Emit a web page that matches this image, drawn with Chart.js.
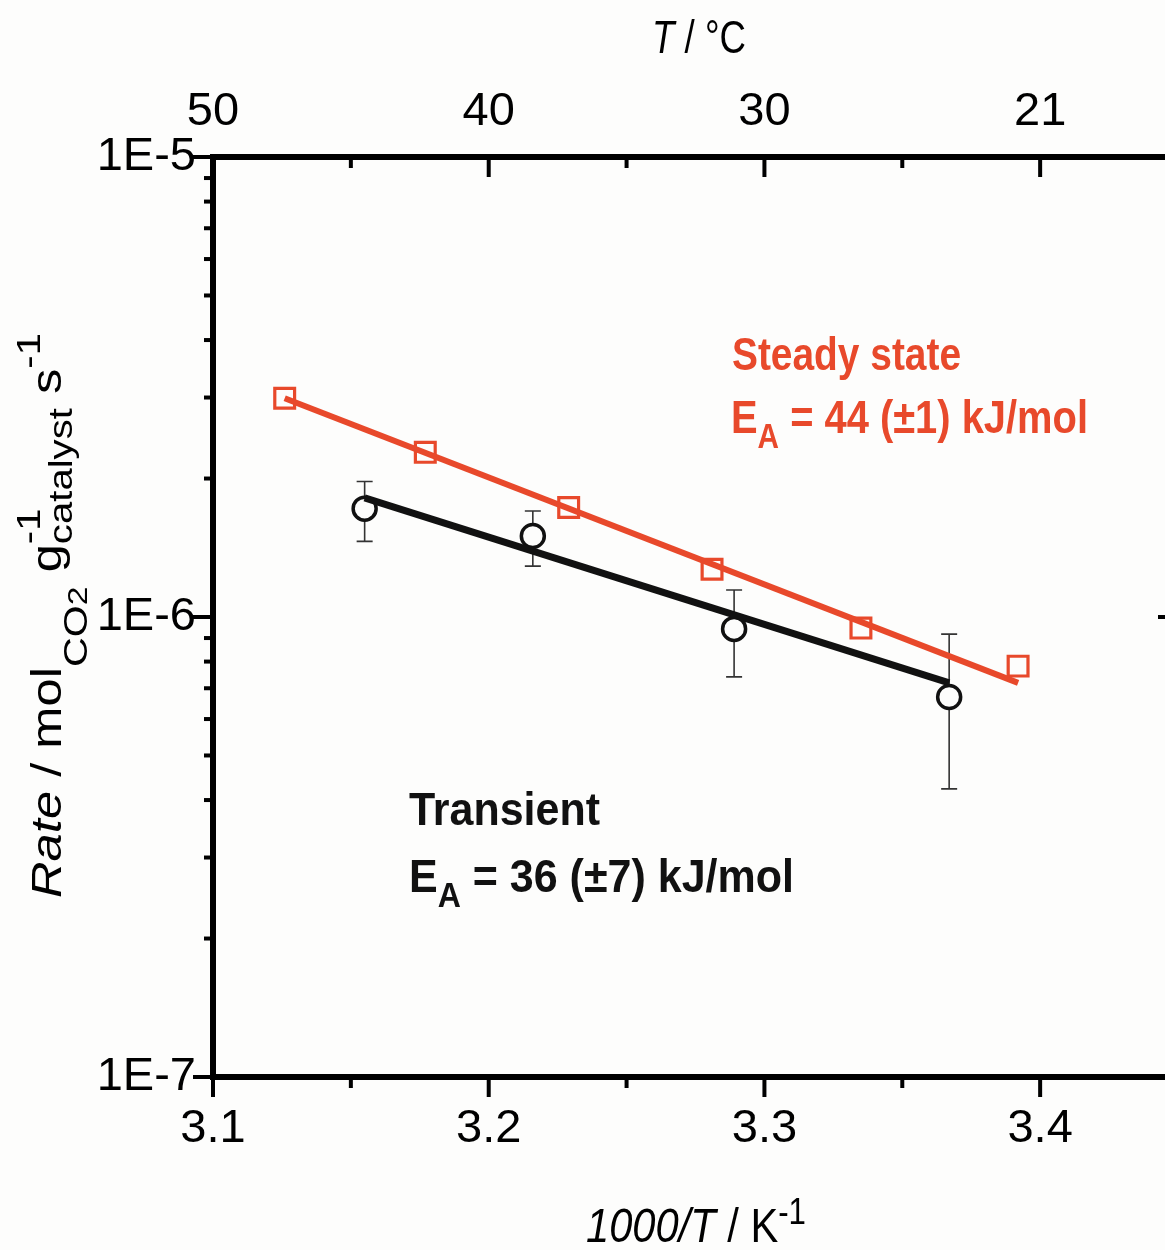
<!DOCTYPE html>
<html>
<head>
<meta charset="utf-8">
<script src="https://cdn.jsdelivr.net/npm/chart.js@4.4.1/dist/chart.umd.min.js"></script>
<style>
html,body{margin:0;padding:0;background:#fdfdfc;overflow:hidden;width:1165px;height:1250px}
canvas{display:block}
</style>
</head>
<body>
<canvas id="c" width="1200" height="1250"></canvas>
<script>
// ---- axis / tick definitions ----
const xTickValues = [3.1, 3.2, 3.3, 3.4];
const xTickLabels = ['3.1', '3.2', '3.3', '3.4'];
const xMinorTicks = [3.15, 3.25, 3.35];
const topTickLabels = ['50', '40', '30', '21'];   // T / °C shown on top axis
const yTickValues = [1e-7, 1e-6, 1e-5];
const yTickLabels = ['1E-7', '1E-6', '1E-5'];

// ---- data (x = 1000/T in K^-1, rate in mol CO2 g^-1 s^-1) ----
const steadyX    = [3.126, 3.177, 3.229, 3.281, 3.335, 3.392];
const steadyRate = [2.99e-6, 2.28e-6, 1.73e-6, 1.27e-6, 9.46e-7, 7.82e-7];

const transientX       = [3.155, 3.216, 3.289, 3.367];
const transientRate    = [1.72e-6, 1.50e-6, 9.42e-7, 6.70e-7];
const transientErrLow  = [1.46e-6, 1.29e-6, 7.41e-7, 4.23e-7];
const transientErrHigh = [1.97e-6, 1.70e-6, 1.145e-6, 9.18e-7];

// Arrhenius fit lines (end points)
const steadyFitX       = [3.126, 3.392];
const steadyFitRate    = [2.99e-6, 7.19e-7];
const transientFitX    = [3.155, 3.367];
const transientFitRate = [1.815e-6, 7.19e-7];

const RED = '#e8492b';
const INK = '#111111';
const FF = "'Liberation Sans', Arial, Helvetica, sans-serif";

// pick a narrow face for tick labels if available
const cv = document.getElementById('c');
const mctx = cv.getContext('2d');
function w(font){ mctx.font = font; return mctx.measureText('3.1 1E-6 40').width; }
const hasNarrow = w("50px 'Liberation Sans Narrow', monospace") !== w('50px monospace');
const tickFont = hasNarrow ? {family:"'Liberation Sans Narrow', 'Liberation Sans', Arial, sans-serif", size:50}
                           : {family:FF, size:47};

function pts(xs, ys){ return xs.map((v,i)=>({x:v, y:ys[i]})); }

function drawRich(ctx, segs, o){
  ctx.save();
  ctx.translate(o.x, o.y);
  if (o.rot) ctx.rotate(o.rot);
  let total = 0;
  segs.forEach(s=>{ ctx.font = s.f; s.w = ctx.measureText(s.t).width; if (s.adv !== false) total += s.w; });
  const sx = o.width ? o.width/total : (o.sx || 1);
  ctx.scale(sx, o.sy || 1);
  let cx = o.align === 'center' ? -total/2 : 0;
  ctx.fillStyle = o.color || '#000';
  ctx.textBaseline = 'alphabetic';
  ctx.textAlign = 'left';
  segs.forEach(s=>{ ctx.font = s.f; ctx.fillText(s.t, cx, s.dy || 0); if (s.adv !== false) cx += s.w; });
  ctx.restore();
}

const deco = {
  id: 'deco',
  beforeDatasetsDraw(chart){
    const {ctx, scales:{x, y}} = chart;
    ctx.save();
    ctx.strokeStyle = '#333';
    ctx.lineWidth = 1.6;
    transientX.forEach((v,i)=>{
      const px = x.getPixelForValue(v);
      const y1 = y.getPixelForValue(transientErrHigh[i]);
      const y2 = y.getPixelForValue(transientErrLow[i]);
      ctx.beginPath();
      ctx.moveTo(px, y1); ctx.lineTo(px, y2);
      ctx.moveTo(px-8, y1); ctx.lineTo(px+8, y1);
      ctx.moveTo(px-8, y2); ctx.lineTo(px+8, y2);
      ctx.stroke();
    });
    ctx.restore();
  },
  afterDraw(chart){
    const {ctx, chartArea:a, scales:{x, y}} = chart;
    ctx.save();
    ctx.strokeStyle = '#000';
    ctx.lineWidth = 4;
    const seg = (x1,y1,x2,y2)=>{ ctx.beginPath(); ctx.moveTo(x1,y1); ctx.lineTo(x2,y2); ctx.stroke(); };
    xTickValues.forEach(v=>{ const p = x.getPixelForValue(v); seg(p, a.bottom, p, a.bottom+20); seg(p, a.top, p, a.top+20); });
    xMinorTicks.forEach(v=>{ const p = x.getPixelForValue(v); seg(p, a.bottom, p, a.bottom+11); seg(p, a.top, p, a.top+11); });
    yTickValues.forEach(v=>{ const p = y.getPixelForValue(v); seg(a.left-20, p, a.left, p); seg(a.right-20, p, a.right, p); });
    for (let d = -7; d < -5; d++) {
      for (let m = 2; m <= 9; m++) {
        const p = y.getPixelForValue(m * Math.pow(10, d));
        seg(a.left-9, p, a.left, p); seg(a.right-10, p, a.right, p);
      }
    }
    ctx.restore();

    // axis titles
    drawRich(ctx, [
      {t:'T', f:'italic 47px '+FF},
      {t:' / ', f:'47px '+FF},
      {t:'°C', f:'47px '+FF}
    ], {x:699, y:53, align:'center', width:94});

    drawRich(ctx, [
      {t:'1000/T', f:'italic 48px '+FF},
      {t:' / K', f:'48px '+FF},
      {t:'-1', f:'36px '+FF, dy:-18}
    ], {x:586, y:1242, width:220});

    drawRich(ctx, [
      {t:'Rate', f:'italic 48px '+FF},
      {t:' / mol', f:'48px '+FF},
      {t:'CO', f:'39px '+FF, dy:30},
      {t:'2', f:'32px '+FF, dy:30},
      {t:' g', f:'48px '+FF},
      {t:'-1', f:'38px '+FF, dy:-24, adv:false},
      {t:'catalyst', f:'38px '+FF, dy:13},
      {t:' s', f:'48px '+FF},
      {t:'-1', f:'38px '+FF, dy:-24}
    ], {x:61, y:898, rot:-Math.PI/2, width:565, sy:0.87});

    // annotations
    const B = 'bold 47px '+FF, BS = 'bold 35px '+FF;
    drawRich(ctx, [{t:'Steady state', f:B}], {x:732, y:370, width:229, color:RED});
    drawRich(ctx, [{t:'E', f:B},{t:'A', f:BS, dy:15},{t:' = 44 (±1) kJ/mol', f:B}], {x:731, y:433, width:357, color:RED});
    drawRich(ctx, [{t:'Transient', f:B}], {x:409, y:825, width:191, color:INK});
    drawRich(ctx, [{t:'E', f:B},{t:'A', f:BS, dy:15},{t:' = 36 (±7) kJ/mol', f:B}], {x:409, y:892, width:385, color:INK});
  }
};

const borderOpt = {display:true, color:'#000', width:6};
const gridOpt = {display:true, drawOnChartArea:false, drawTicks:false, color:'rgba(0,0,0,0)'};

new Chart(cv, {
  type: 'scatter',
  data: {
    datasets: [
      {type:'line', label:'Steady state fit', data:pts(steadyFitX, steadyFitRate), borderColor:RED, borderWidth:6, pointRadius:0, order:1},
      {type:'line', label:'Transient fit', data:pts(transientFitX, transientFitRate), borderColor:INK, borderWidth:7, pointRadius:0, order:1},
      {type:'scatter', label:'Steady state', data:pts(steadyX, steadyRate), pointStyle:'rect', pointRadius:14, borderWidth:3.2, borderColor:RED, backgroundColor:'rgba(0,0,0,0)', order:2},
      {type:'scatter', label:'Transient', data:pts(transientX, transientRate), pointStyle:'circle', pointRadius:11.5, borderWidth:3.5, borderColor:INK, backgroundColor:'#fdfdfc', order:2}
    ]
  },
  options: {
    responsive:false, animation:false, events:[],
    layout:{padding:{left:0, top:0, right:22, bottom:0}},
    plugins:{legend:{display:false}, tooltip:{enabled:false}},
    scales:{
      x:{type:'linear', position:'bottom', min:3.1, max:3.45,
         afterBuildTicks:s=>{ s.ticks = xTickValues.map(v=>({value:v})); },
         afterFit:s=>{ s.height = 173; },
         ticks:{font:tickFont, color:'#000', padding:24, maxRotation:0, autoSkip:false, callback:(v,i)=>xTickLabels[i]},
         grid:gridOpt, border:borderOpt},
      x2:{type:'linear', position:'top', min:3.1, max:3.45,
         afterBuildTicks:s=>{ s.ticks = xTickValues.map(v=>({value:v})); },
         afterFit:s=>{ s.height = 157; },
         ticks:{font:tickFont, color:'#000', padding:17, maxRotation:0, autoSkip:false, callback:(v,i)=>topTickLabels[i]},
         grid:gridOpt, border:borderOpt},
      y:{type:'logarithmic', position:'left', min:1e-7, max:1e-5,
         afterBuildTicks:s=>{ s.ticks = yTickValues.map(v=>({value:v})); },
         afterFit:s=>{ s.width = 213; },
         ticks:{font:tickFont, color:'#000', padding:17, autoSkip:false, callback:(v,i)=>yTickLabels[i]},
         grid:gridOpt, border:borderOpt},
      y2:{type:'logarithmic', position:'right', min:1e-7, max:1e-5,
         afterFit:s=>{ s.width = 0; },
         ticks:{display:false},
         grid:gridOpt, border:borderOpt}
    }
  },
  plugins:[deco]
});
</script>
</body>
</html>
